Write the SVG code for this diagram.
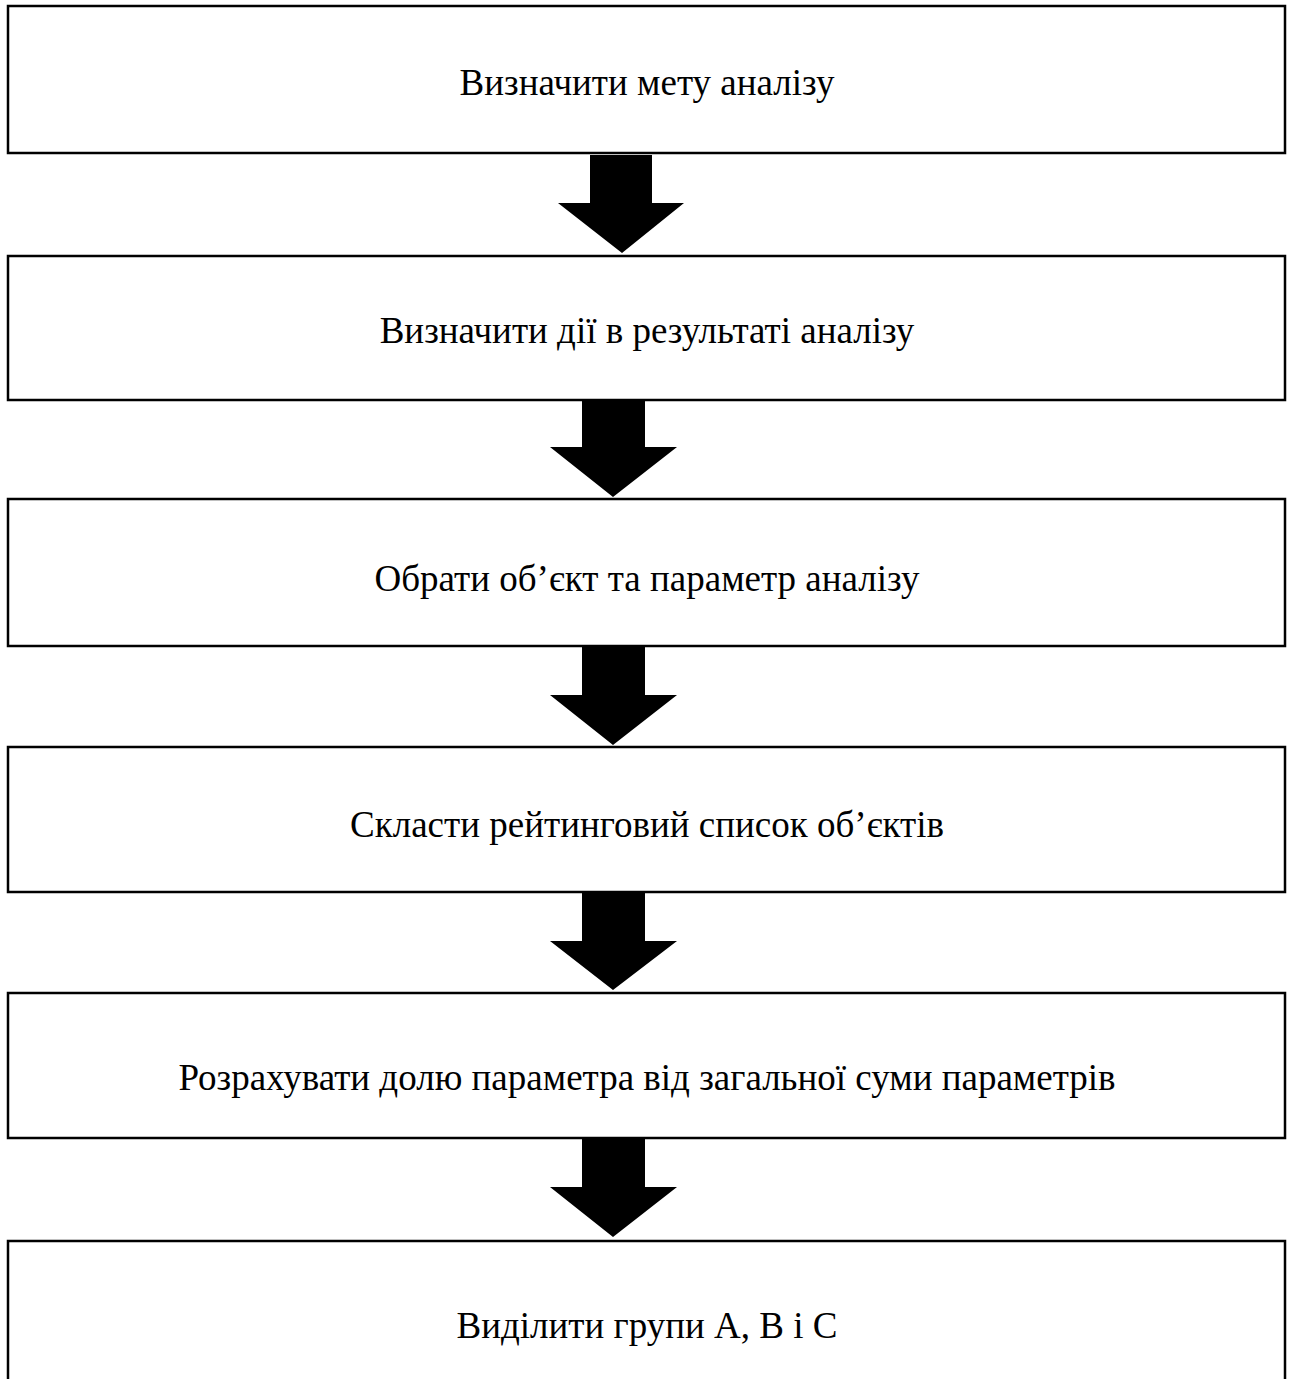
<svg xmlns="http://www.w3.org/2000/svg" width="1293" height="1379" viewBox="0 0 1293 1379">
<style>
.box{fill:#fff;stroke:#000;stroke-width:2.5}
.lbl{font-family:'Liberation Serif','Times New Roman',Tinos,'DejaVu Serif',serif;font-size:37px;fill:#000;text-anchor:middle}
.arr{fill:#000}
</style>
<rect width="1293" height="1379" fill="#fff"/>
<g id="node1"><rect class="box" x="8" y="6" width="1277" height="147"/><text class="lbl" x="647" y="95">Визначити мету аналізу</text></g>
<g id="node2"><rect class="box" x="8" y="256" width="1277" height="144"/><text class="lbl" x="647" y="343">Визначити дії в результаті аналізу</text></g>
<g id="node3"><rect class="box" x="8" y="499" width="1277" height="147"/><text class="lbl" x="647" y="591">Обрати об’єкт та параметр аналізу</text></g>
<g id="node4"><rect class="box" x="8" y="747" width="1277" height="145"/><text class="lbl" x="647" y="837">Скласти рейтинговий список об’єктів</text></g>
<g id="node5"><rect class="box" x="8" y="993" width="1277" height="145"/><text class="lbl" x="647" y="1090">Розрахувати долю параметра від загальної суми параметрів</text></g>
<g id="node6"><rect class="box" x="8" y="1241" width="1277" height="160"/><text class="lbl" x="647" y="1338">Виділити групи А, В і С</text></g>
<g id="connectors">
<polygon class="arr" points="590,155 652,155 652,203 684,203 622,253 558,203 590,203"/>
<polygon class="arr" points="582,401 645,401 645,447 677,447 613,497 550,447 582,447"/>
<polygon class="arr" points="582,647 645,647 645,695 677,695 613,745 550,695 582,695"/>
<polygon class="arr" points="582,893 645,893 645,941 677,941 613,990 550,941 582,941"/>
<polygon class="arr" points="582,1139 645,1139 645,1187 677,1187 613,1237 550,1187 582,1187"/>
</g>
</svg>
